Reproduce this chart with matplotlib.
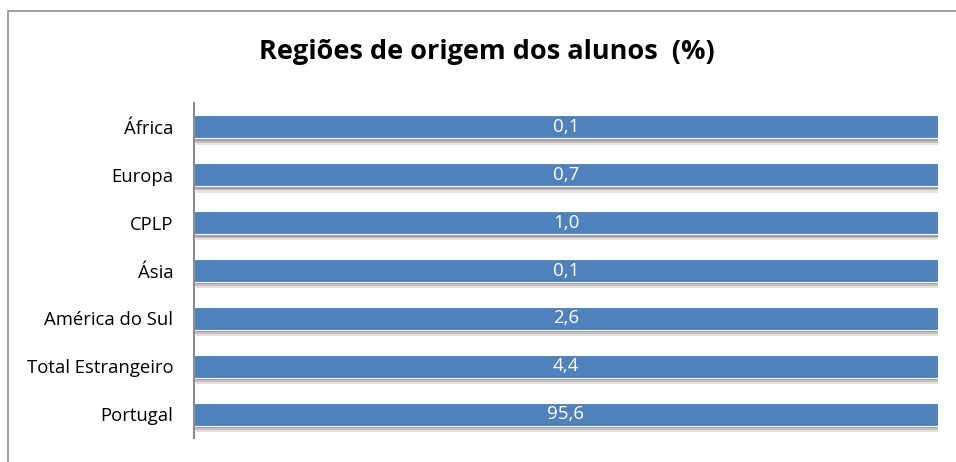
import matplotlib
matplotlib.use("Agg")
import matplotlib.pyplot as plt
from matplotlib.patches import Rectangle
import matplotlib.patheffects as pe

categories = ["África", "Europa", "CPLP", "Ásia", "América do Sul", "Total Estrangeiro", "Portugal"]
values = [0.1, 0.7, 1.0, 0.1, 2.6, 4.4, 95.6]
value_labels = ["0,1", "0,7", "1,0", "0,1", "2,6", "4,4", "95,6"]
title = "Regiões de origem dos alunos  (%)"

plt.rcParams['font.family'] = ['Open Sans', 'DejaVu Sans']

W, H = 956, 462
fig = plt.figure(figsize=(W/100, H/100), dpi=100)
fig.patch.set_facecolor("white")

# outer chart border (cropped at right and bottom)
fig.patches.append(Rectangle((8/W, -0.5), 2.0, 1 - 11/H + 0.5, transform=fig.transFigure,
                             fill=False, edgecolor="#8c8c8c", linewidth=1.2))

ax = fig.add_axes([194/W, 1 - 438/H, (938-194)/W, (438-103)/H])

# 100% stacked single-series: every bar spans the full share
shares = [v / v * 100 for v in values]
ypos = list(range(len(categories)))[::-1]
shadow = [pe.SimplePatchShadow(offset=(1.5, -4.5), shadow_rgbFace="#d0d0d0", alpha=0.6),
          pe.SimplePatchShadow(offset=(1.0, -3.0), shadow_rgbFace="#a8a8a8", alpha=0.6),
          pe.SimplePatchShadow(offset=(0.8, -1.8), shadow_rgbFace="#8a8a8a", alpha=0.6),
          pe.Normal()]
bars = ax.barh(ypos, shares, height=0.48, color="#4F81BD", edgecolor="white", linewidth=0.8,
               path_effects=shadow)
for b, lab in zip(bars, value_labels):
    ax.text(b.get_x() + b.get_width()/2, b.get_y() + b.get_height()/2, lab,
            ha="center", va="center", color="white", fontsize=13.5)

ax.set_xlim(0, 100)
ax.set_ylim(-0.5, len(categories) - 0.5)
ax.set_yticks(ypos)
ax.set_yticklabels(categories, fontsize=13.3)
ax.set_xticks([])
ax.tick_params(axis="y", length=0, pad=15)
for s in ["top", "right", "bottom"]:
    ax.spines[s].set_visible(False)
ax.spines["left"].set_color("#8c8c8c")
ax.spines["left"].set_linewidth(1.5)

fig.text(487/W, 1 - 52/H, title, ha="center", va="center", fontsize=19.5, fontweight="bold")

fig.savefig("out.png", dpi=100)
